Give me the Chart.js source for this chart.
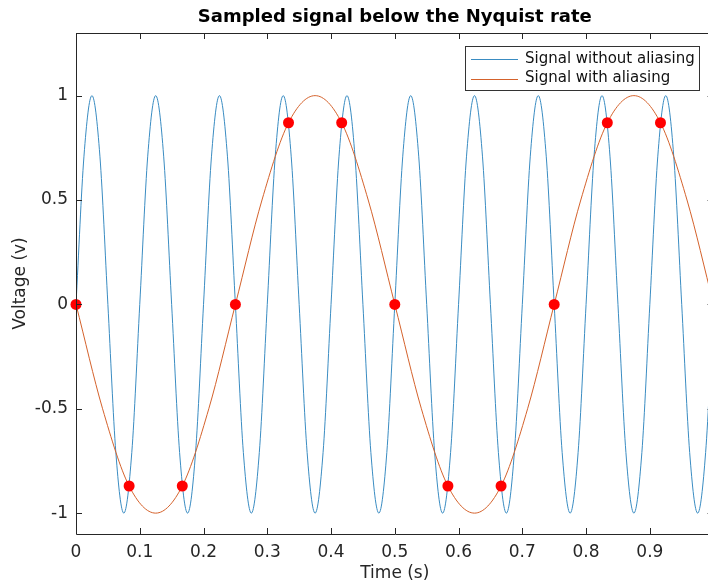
<!DOCTYPE html>
<html>
<head>
<meta charset="utf-8">
<script src="https://cdn.jsdelivr.net/npm/chart.js@4/dist/chart.umd.min.js"></script>
<style>
  html, body { margin: 0; padding: 0; background: #fff; overflow: hidden; }
  #wrap { width: 727px; height: 582px; position: relative; }
</style>
</head>
<body>
<div id="wrap"><canvas id="signalChart"></canvas></div>
<script>
// Signal without aliasing (10 Hz), read at 1/8 period steps
const blueTime = [
    0, 0.0125, 0.025, 0.0375, 0.05, 0.0625, 0.075, 0.0875,
    0.1, 0.1125, 0.125, 0.1375, 0.15, 0.1625, 0.175, 0.1875,
    0.2, 0.2125, 0.225, 0.2375, 0.25, 0.2625, 0.275, 0.2875,
    0.3, 0.3125, 0.325, 0.3375, 0.35, 0.3625, 0.375, 0.3875,
    0.4, 0.4125, 0.425, 0.4375, 0.45, 0.4625, 0.475, 0.4875,
    0.5, 0.5125, 0.525, 0.5375, 0.55, 0.5625, 0.575, 0.5875,
    0.6, 0.6125, 0.625, 0.6375, 0.65, 0.6625, 0.675, 0.6875,
    0.7, 0.7125, 0.725, 0.7375, 0.75, 0.7625, 0.775, 0.7875,
    0.8, 0.8125, 0.825, 0.8375, 0.85, 0.8625, 0.875, 0.8875,
    0.9, 0.9125, 0.925, 0.9375, 0.95, 0.9625, 0.975, 0.9875,
    1
];
const blueVolt = [
    0, 0.71, 1, 0.71, 0, -0.71, -1, -0.71,
    0, 0.71, 1, 0.71, 0, -0.71, -1, -0.71,
    0, 0.71, 1, 0.71, 0, -0.71, -1, -0.71,
    0, 0.71, 1, 0.71, 0, -0.71, -1, -0.71,
    0, 0.71, 1, 0.71, 0, -0.71, -1, -0.71,
    0, 0.71, 1, 0.71, 0, -0.71, -1, -0.71,
    0, 0.71, 1, 0.71, 0, -0.71, -1, -0.71,
    0, 0.71, 1, 0.71, 0, -0.71, -1, -0.71,
    0, 0.71, 1, 0.71, 0, -0.71, -1, -0.71,
    0, 0.71, 1, 0.71, 0, -0.71, -1, -0.71,
    0
];

// Signal with aliasing (2 Hz)
const redTime = [
    0, 0.0417, 0.0833, 0.125, 0.1667, 0.2083, 0.25, 0.2917,
    0.3333, 0.375, 0.4167, 0.4583, 0.5, 0.5417, 0.5833, 0.625,
    0.6667, 0.7083, 0.75, 0.7917, 0.8333, 0.875, 0.9167, 0.9583,
    1
];
const redVolt = [
    0, -0.5, -0.87, -1, -0.87, -0.5, 0, 0.5,
    0.87, 1, 0.87, 0.5, 0, -0.5, -0.87, -1,
    -0.87, -0.5, 0, 0.5, 0.87, 1, 0.87, 0.5,
    0
];

// Samples taken at 12 Hz
const sampleTime = [0, 0.0833, 0.1667, 0.25, 0.3333, 0.4167, 0.5, 0.5833, 0.6667, 0.75, 0.8333, 0.9167, 1];
const sampleVolt = [0, -0.87, -0.87, 0, 0.87, 0.87, 0, -0.87, -0.87, 0, 0.87, 0.87, 0];

const xTicks = [0, 0.1, 0.2, 0.3, 0.4, 0.5, 0.6, 0.7, 0.8, 0.9, 1];
const yTicks = [-1, -0.5, 0, 0.5, 1];
const legendLabels = ['Signal without aliasing', 'Signal with aliasing'];

const FONT = "'DejaVu Sans', sans-serif";
const AXIS_COLOR = '#262626';
const BLUE = '#3a8cc2';
const ORANGE = '#d4622c';

const toPoints = (xs, ys) => xs.map((x, i) => ({ x: x, y: ys[i] }));

// title, inward ticks, box outline and the legend, MATLAB style
const axesPlugin = {
    id: 'matlabAxes',
    afterDatasetsDraw(chart) {
        const { ctx, chartArea: a, scales } = chart;
        const tick = 6;
        ctx.save();
        ctx.strokeStyle = AXIS_COLOR;
        ctx.lineWidth = 1;
        ctx.beginPath();
        ctx.rect(Math.round(a.left) + 0.5, Math.round(a.top) + 0.5,
            Math.round(a.right - a.left), Math.round(a.bottom - a.top));
        xTicks.forEach(v => {
            const px = Math.round(scales.x.getPixelForValue(v)) + 0.5;
            ctx.moveTo(px, a.bottom); ctx.lineTo(px, a.bottom - tick);
            ctx.moveTo(px, a.top); ctx.lineTo(px, a.top + tick);
        });
        yTicks.forEach(v => {
            const py = Math.round(scales.y.getPixelForValue(v)) + 0.5;
            ctx.moveTo(a.left, py); ctx.lineTo(a.left + tick, py);
            ctx.moveTo(a.right, py); ctx.lineTo(a.right - tick, py);
        });
        ctx.stroke();

        // title centred over the axes
        ctx.fillStyle = '#000';
        ctx.font = 'bold 18px ' + FONT;
        ctx.textAlign = 'center';
        ctx.textBaseline = 'middle';
        ctx.fillText('Sampled signal below the Nyquist rate', (a.left + a.right) / 2, 17);

        // legend box
        const lx = 465, ly = 46, lw = 234, lh = 44;
        ctx.fillStyle = '#fff';
        ctx.fillRect(lx, ly, lw, lh);
        ctx.strokeStyle = '#333';
        ctx.strokeRect(lx + 0.5, ly + 0.5, lw, lh);
        ctx.font = '15px ' + FONT;
        ctx.textAlign = 'left';
        legendLabels.forEach((label, i) => {
            const d = chart.data.datasets.find(ds => ds.label === label);
            const y = ly + 13 + i * 19.5;
            ctx.strokeStyle = d.borderColor;
            ctx.lineWidth = 1;
            ctx.beginPath();
            ctx.moveTo(lx + 6, Math.round(y) + 0.5);
            ctx.lineTo(lx + 53, Math.round(y) + 0.5);
            ctx.stroke();
            ctx.fillStyle = '#111';
            ctx.fillText(label, lx + 60, y);
        });
        ctx.restore();
    }
};

new Chart(document.getElementById('signalChart'), {
    type: 'line',
    data: {
        datasets: [
            {
                label: 'Samples',
                data: toPoints(sampleTime, sampleVolt),
                showLine: false,
                pointRadius: 5.5,
                pointBackgroundColor: '#ff0000',
                pointBorderColor: '#ff0000',
                pointBorderWidth: 0,
                clip: false,
                order: 0
            },
            {
                label: 'Signal with aliasing',
                data: toPoints(redTime, redVolt),
                borderColor: ORANGE,
                borderWidth: 1,
                pointRadius: 0,
                cubicInterpolationMode: 'monotone',
                order: 1
            },
            {
                label: 'Signal without aliasing',
                data: toPoints(blueTime, blueVolt),
                borderColor: BLUE,
                borderWidth: 1,
                pointRadius: 0,
                cubicInterpolationMode: 'monotone',
                order: 2
            }
        ]
    },
    options: {
        responsive: true,
        maintainAspectRatio: false,
        animation: false,
        layout: { padding: { left: 0, right: 10, top: 33, bottom: 0 } },
        scales: {
            x: {
                type: 'linear',
                min: 0,
                max: 1,
                afterBuildTicks: s => { s.ticks = xTicks.map(v => ({ value: v })); },
                afterFit: s => { s.height = 48; },
                grid: { display: false, drawTicks: false },
                border: { display: false },
                ticks: {
                    color: AXIS_COLOR,
                    font: { family: FONT, size: 17 },
                    padding: 8,
                    maxRotation: 0,
                    autoSkip: false,
                    callback: v => String(v)
                },
                title: {
                    display: true,
                    text: 'Time (s)',
                    color: AXIS_COLOR,
                    font: { family: FONT, size: 17, lineHeight: 1 },
                    padding: { top: 0, bottom: 0 }
                }
            },
            y: {
                min: -1.1,
                max: 1.3,
                afterBuildTicks: s => { s.ticks = yTicks.map(v => ({ value: v })); },
                afterFit: s => { s.width = 76; },
                grid: { display: false, drawTicks: false },
                border: { display: false },
                ticks: {
                    color: AXIS_COLOR,
                    font: { family: FONT, size: 17 },
                    padding: 8,
                    callback: v => String(v)
                },
                title: {
                    display: true,
                    text: 'Voltage (v)',
                    color: AXIS_COLOR,
                    font: { family: FONT, size: 17 },
                    padding: { top: 10, bottom: 0 }
                }
            }
        },
        plugins: {
            legend: { display: false },
            tooltip: { enabled: false },
            title: { display: false }
        }
    },
    plugins: [axesPlugin]
});
</script>
</body>
</html>
